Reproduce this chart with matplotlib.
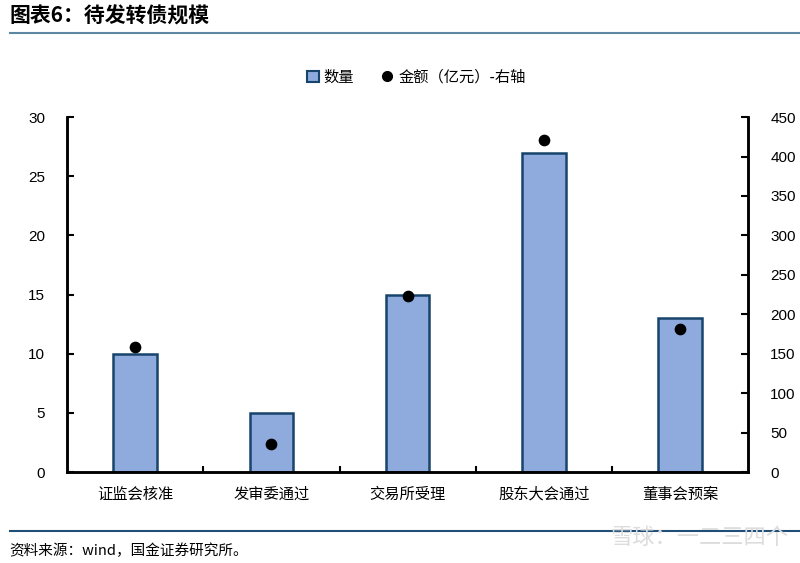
import numpy as np
import matplotlib.pyplot as plt
from matplotlib.patches import Patch
from matplotlib.lines import Line2D

plt.rcParams['font.family'] = ['Noto Sans CJK SC', 'DejaVu Sans']

categories = ['证监会核准', '发审委通过', '交易所受理', '股东大会通过', '董事会预案']
counts = [10, 5, 15, 27, 13]
amounts = [158, 36, 223, 421, 181]
left_ticks = [0, 5, 10, 15, 20, 25, 30]
right_ticks = [0, 50, 100, 150, 200, 250, 300, 350, 400, 450]

bar_face = '#8faadc'
bar_edge = '#17446b'

fig = plt.figure(figsize=(8, 5.63), dpi=100)
ax = fig.add_axes([0.084, 0.1616, 0.851, 0.6304])
ax2 = ax.twinx()

x = np.arange(len(categories))
ax.bar(x, counts, width=0.32, color=bar_face, edgecolor=bar_edge, linewidth=1.8, zorder=2)
ax2.scatter(x, amounts, s=55, color='black', zorder=3)

ax.set_xlim(-0.5, len(categories) - 0.5)
ax.set_ylim(0, 30)
ax2.set_ylim(0, 450)
ax.set_yticks(left_ticks)
ax2.set_yticks(right_ticks)

tick_font = {'family': ['Liberation Sans', 'DejaVu Sans'], 'size': 11}
ax.set_yticklabels([str(v) for v in left_ticks], **tick_font)
ax2.set_yticklabels([str(v) for v in right_ticks], **tick_font)

ax.set_xticks(x)
ax.set_xticklabels(categories, fontsize=11)
ax.tick_params(axis='x', length=0, pad=10)
ax.set_xticks(np.arange(0.5, len(categories) - 0.5, 1), minor=True)
ax.tick_params(axis='x', which='minor', direction='in', length=4, width=1.5)
ax.tick_params(axis='y', direction='in', length=5, width=1.5, pad=16)
ax2.tick_params(axis='y', direction='in', length=5, width=1.5, pad=16)

for a in (ax, ax2):
    a.spines['top'].set_visible(False)
    for s in ('left', 'right', 'bottom'):
        a.spines[s].set_linewidth(1.8)

handles = [
    Patch(facecolor=bar_face, edgecolor=bar_edge, linewidth=1.5, label='数量'),
    Line2D([], [], marker='o', color='black', linestyle='none', markersize=7, label='金额（亿元）-右轴'),
]
fig.legend(handles=handles, loc='center', bbox_to_anchor=(0.52, 0.863), ncol=2, frameon=False,
           fontsize=11, handlelength=0.8, handletextpad=0.3, columnspacing=1.8)

fig.text(0.012, 0.972, '图表6：待发转债规模', fontsize=15, fontweight='bold', style='italic', va='center')
fig.add_artist(Line2D([0.012, 1.0], [0.941, 0.941], color='#5b87a3', linewidth=1.5))
fig.add_artist(Line2D([0.012, 1.0], [0.057, 0.057], color='#1f4e79', linewidth=1.5))
fig.text(0.012, 0.022, '资料来源：wind，国金证券研究所。', fontsize=10.5, va='center')
fig.text(0.985, 0.045, '雪球：一二三四个', fontsize=16, color='#dcdcdc', ha='right', va='center')

fig.savefig('out.png', dpi=100)
